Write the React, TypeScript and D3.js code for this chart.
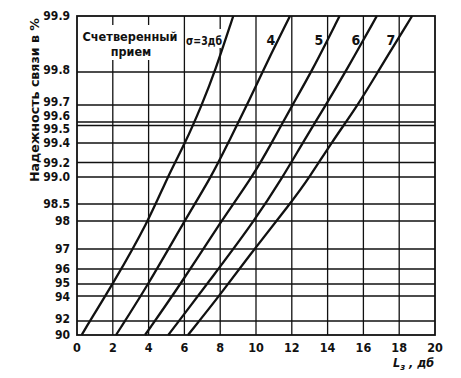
import React from "react";
import * as d3 from "d3";

// ---- data ----
const xTicks = [0, 2, 4, 6, 8, 10, 12, 14, 16, 18, 20];
const yTicks = [90, 92, 94, 95, 96, 97, 98, 98.5, 99.0, 99.2, 99.4, 99.5, 99.6, 99.7, 99.8, 99.9];
const yTickLabels = ["90", "92", "94", "95", "96", "97", "98", "98.5", "99.0", "99.2", "99.4", "99.5", "99.6", "99.7", "99.8", "99.9"];
// probability-paper calibration of the printed y axis (fraction of axis height)
const yPaper = [0, 0.0439, 0.1223, 0.1599, 0.2069, 0.2696, 0.3574, 0.4107, 0.4953, 0.5407, 0.6019, 0.6567, 0.6677, 0.7210, 0.8245, 1];

// [L (dB), reliability %]
const sigma3 = [[0.26, 90], [0.72, 92], [2.0, 95], [4.0, 98], [5.05, 99.0], [6.05, 99.4], [6.97, 99.7], [7.7, 99.8], [8.73, 99.9]];
const sigma4 = [[2.18, 90], [4.0, 95], [6.0, 98], [7.5, 99.0], [8.44, 99.4], [9.5, 99.7], [10.35, 99.8], [11.9, 99.9]];
const sigma5 = [[3.8, 90], [5.8, 95], [8.05, 98], [9.8, 99.0], [10.87, 99.4], [12.03, 99.7], [13.1, 99.8], [14.67, 99.9]];
const sigma6 = [[5.1, 90], [5.7, 92], [7.9, 96], [9.9, 98], [11.5, 99.0], [12.6, 99.4], [13.9, 99.7], [15.0, 99.8], [16.75, 99.9]];
const sigma7 = [[6.2, 90], [7.95, 94], [9.9, 97], [11.9, 98.5], [13.0, 99.0], [14.2, 99.4], [15.7, 99.7], [16.8, 99.8], [18.72, 99.9]];
const series = [sigma3, sigma4, sigma5, sigma6, sigma7];
const seriesLabels = ["σ=3дб", "4", "5", "6", "7"];

const yTitle = "Надежность связи в %";
const legendLine1 = "Счетверенный";
const legendLine2 = "прием";

// ---- layout ----
const W = 461, H = 378;
const L0 = 77, R0 = 435, T0 = 16, B0 = 335;
const FONT = "'Liberation Sans Narrow', 'DejaVu Sans Condensed', 'Arial Narrow', sans-serif";

const labelNudge: Record<string, number> = { "99.8": -1.5, "99.7": -3.5, "99.6": -6.5, "99.5": 3, "95": -0.5, "94": 1, "92": -2 };

export default function App() {
  const x = d3.scaleLinear().domain([0, 20]).range([L0, R0]);
  const y = d3.scaleLinear().domain(yTicks).range(yPaper.map((f) => B0 - f * (B0 - T0)));
  const line = d3
    .line<number[]>()
    .x((d) => x(d[0]))
    .y((d) => y(d[1]))
    .curve(d3.curveBasis);

  const labelX = [null, 271, 319, 356, 391];

  return (
    <svg width={W} height={H} style={{ position: "absolute", left: 0, top: 0, background: "#fff" }} fontFamily={FONT} fontWeight="bold">
      <rect x={0} y={0} width={W} height={H} fill="#fff" />
      {/* vertical grid */}
      {xTicks.slice(1, -1).map((t) => (
        <line key={"vx" + t} x1={x(t)} x2={x(t)} y1={T0} y2={B0} stroke="#111" strokeWidth={1.3} />
      ))}
      {/* horizontal grid */}
      {yTicks.slice(1, -1).map((t) => (
        <line key={"hy" + t} x1={L0} x2={R0} y1={y(t)} y2={y(t)} stroke="#111" strokeWidth={1.3} />
      ))}
      {/* legend text background */}
      <rect x={80} y={25} width={101} height={35} fill="#fff" />
      <rect x={186} y={29} width={37} height={19} fill="#fff" />
      {/* frame */}
      <rect x={L0} y={T0} width={R0 - L0} height={B0 - T0} fill="none" stroke="#111" strokeWidth={1.8} />
      {/* curves */}
      {series.map((s, i) => (
        <path key={"s" + i} d={line(s) || ""} fill="none" stroke="#111" strokeWidth={2.3} />
      ))}
      {/* y tick labels */}
      {yTicks.map((t, i) => (
        <text
          key={"yl" + t}
          x={70}
          y={y(t) + (labelNudge[yTickLabels[i]] || 0)}
          textAnchor="end"
          dominantBaseline="central"
          fontSize={12}
          fill="#111"
        >
          {yTickLabels[i]}
        </text>
      ))}
      {/* x tick labels */}
      {xTicks.map((t) => (
        <text key={"xl" + t} x={x(t)} y={352} textAnchor="middle" fontSize={12.5} fill="#111">
          {t}
        </text>
      ))}
      {/* axis titles */}
      <text
        transform="translate(39,182) rotate(-90)"
        x={0}
        y={0}
        fontSize={13}
        textLength={164}
        lengthAdjust="spacingAndGlyphs"
        fill="#111"
      >
        {yTitle}
      </text>
      <text x={393} y={367} fontSize={12.5} fill="#111" fontStyle="italic">
        L<tspan dy={3} fontSize={9.5}>з</tspan>
        <tspan dy={-3}> , дб</tspan>
      </text>
      {/* legend */}
      <text x={130} y={41} textAnchor="middle" fontSize={12.5} textLength={95} lengthAdjust="spacingAndGlyphs" fill="#111">
        {legendLine1}
      </text>
      <text x={131} y={55.5} textAnchor="middle" fontSize={12.5} fill="#111">
        {legendLine2}
      </text>
      <text x={186} y={44.5} fontSize={13} textLength={36} lengthAdjust="spacingAndGlyphs" fill="#111">
        {seriesLabels[0]}
      </text>
      {seriesLabels.slice(1).map((s, i) => (
        <text key={"sl" + s} x={labelX[i + 1] as number} y={45} textAnchor="middle" fontSize={14} fill="#111">
          {s}
        </text>
      ))}
    </svg>
  );
}
